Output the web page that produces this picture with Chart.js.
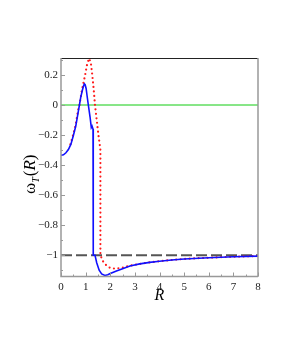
<!DOCTYPE html>
<html><head><meta charset="utf-8">
<script src="https://cdn.jsdelivr.net/npm/chart.js@4/dist/chart.umd.min.js"></script>
<style>html,body{margin:0;padding:0;background:#fff;}#wrap{width:281px;height:363px;position:relative;}</style>
</head><body><div id="wrap"><canvas id="c" width="281" height="363"></canvas></div>
<script>
const yTicks = [-1, -0.8, -0.6, -0.4, -0.2, 0, 0.2];
const xTicks = [0, 1, 2, 3, 4, 5, 6, 7, 8];
const blueR = [0,0.1,0.2,0.3,0.4,0.5,0.6,0.7,0.8,0.87,0.92,0.95,0.98,1.02,1.06,1.11,1.18,1.23,1.26,1.3,1.31,1.38,1.45,1.55,1.65,1.78,1.9,2.0,2.25,2.5,2.8,3.2,3.6,4,4.5,5,6,7,8];
const blueW = [-0.335,-0.332,-0.318,-0.297,-0.262,-0.205,-0.14,-0.045,0.05,0.1,0.13,0.14,0.135,0.11,0.06,0.0,-0.08,-0.15,-0.14,-0.16,-1.0,-1.0,-1.05,-1.1,-1.125,-1.135,-1.13,-1.122,-1.105,-1.09,-1.072,-1.058,-1.048,-1.04,-1.032,-1.025,-1.017,-1.01,-1.006];
const redR = [0.38,0.45,0.5,0.6,0.7,0.75,0.85,0.98,1.07,1.15,1.22,1.27,1.33,1.38,1.45,1.52,1.57,1.6,1.6,1.7,1.85,2.0,2.2,2.5,2.8,3.2,3.6,4,4.5,5,6,7,8];
const redW = [-0.262,-0.225,-0.195,-0.128,-0.03,0.0,0.1,0.2,0.28,0.31,0.27,0.2,0.1,0.0,-0.1,-0.2,-0.26,-0.3,-1.0,-1.04,-1.07,-1.085,-1.09,-1.083,-1.07,-1.058,-1.048,-1.04,-1.032,-1.025,-1.017,-1.01,-1.006];
const zeroLineW = [0, 0];
const asymptoteW = [-1, -1];
const lineR = [0, 8];

const pts = (xs, ys) => xs.map((x, i) => ({x: x, y: ys[i]}));
const minus = v => String(v).replace('-', '\u2212');

const frame = {
  id: 'frame',
  afterDatasetsDraw(chart) {
    const {ctx, chartArea: a} = chart;
    const xs = chart.scales.x, ys = chart.scales.y;
    ctx.save();
    ctx.lineWidth = 1;
    ctx.strokeStyle = '#222';
    ctx.beginPath(); ctx.moveTo(a.left, a.top + 0.5); ctx.lineTo(a.right, a.top + 0.5); ctx.stroke();
    ctx.strokeStyle = '#999';
    ctx.lineWidth = 1.5;
    ctx.beginPath();
    ctx.moveTo(a.right, a.top); ctx.lineTo(a.right, a.bottom);
    ctx.moveTo(a.left, a.top); ctx.lineTo(a.left, a.bottom); ctx.lineTo(a.right, a.bottom);
    ctx.stroke();
    ctx.lineWidth = 1;
    ctx.beginPath();
    for (let v = 0; v <= 8.001; v += 0.5) {
      const px = Math.round(xs.getPixelForValue(v)) + 0.5;
      const len = (Math.abs(v - Math.round(v)) < 1e-6) ? 4 : 2;
      ctx.moveTo(px, a.bottom); ctx.lineTo(px, a.bottom - len);
    }
    for (let v = -1.1; v <= 0.31; v += 0.1) {
      const py = Math.round(ys.getPixelForValue(v)) + 0.5;
      const major = Math.abs(v * 5 - Math.round(v * 5)) < 1e-6;
      ctx.moveTo(a.left, py); ctx.lineTo(a.left + (major ? 4 : 2), py);
    }
    ctx.stroke();
    // axis titles
    ctx.fillStyle = '#000';
    ctx.textBaseline = 'alphabetic';
    ctx.font = 'italic 16px "Liberation Serif"';
    ctx.textAlign = 'center';
    ctx.fillText('R', (a.left + a.right) / 2, 300);
    ctx.translate(35, 194);
    ctx.rotate(-Math.PI / 2);
    ctx.textAlign = 'left';
    ctx.font = '17px "Liberation Serif"';
    ctx.fillText('\u03c9', 0, 0);
    let w = ctx.measureText('\u03c9').width;
    ctx.font = 'italic 10px "Liberation Serif"';
    ctx.fillText('T', w, 4);
    w += ctx.measureText('T').width + 1;
    ctx.font = '17px "Liberation Serif"';
    ctx.fillText('(', w, 0);
    w += ctx.measureText('(').width;
    ctx.font = 'italic 17px "Liberation Serif"';
    ctx.fillText('R', w, 0);
    w += ctx.measureText('R').width;
    ctx.font = '17px "Liberation Serif"';
    ctx.fillText(')', w, 0);
    ctx.restore();
  }
};

new Chart(document.getElementById('c'), {
  type: 'scatter',
  data: {
    datasets: [
      {data: pts(blueR, blueW), showLine: true, borderColor: '#1010ff', borderWidth: 1.6, pointRadius: 0, tension: 0, order: 0},
      {data: pts(redR, redW), showLine: true, borderColor: '#ff1a1a', borderWidth: 2.2, borderDash: [0, 4.5], borderCapStyle: 'round', pointRadius: 0, tension: 0, order: 1},
      {data: pts(lineR, zeroLineW), showLine: true, borderColor: '#11cc11', borderWidth: 1, pointRadius: 0, order: 3},
      {data: pts(lineR, asymptoteW), showLine: true, borderColor: '#555', borderWidth: 2, borderDash: [11, 4], pointRadius: 0, order: 2}
    ]
  },
  options: {
    responsive: false,
    animation: false,
    events: [],
    layout: {padding: {left: 0, top: 58, right: 23, bottom: 0}},
    plugins: {legend: {display: false}, tooltip: {enabled: false}},
    scales: {
      x: {
        type: 'linear', min: 0, max: 8,
        afterBuildTicks: s => { s.ticks = xTicks.map(v => ({value: v})); },
        afterFit: s => { s.height = 363 - 276.5; },
        grid: {display: false, drawTicks: false},
        border: {display: false},
        ticks: {padding: 4, color: '#222', font: {family: 'Liberation Serif, serif', size: 11}, maxRotation: 0, callback: v => minus(v)}
      },
      y: {
        type: 'linear', min: -1.142, max: 0.313,
        afterBuildTicks: s => { s.ticks = yTicks.map(v => ({value: v})); },
        afterFit: s => { s.width = 61; },
        grid: {display: false, drawTicks: false},
        border: {display: false},
        ticks: {padding: 3, color: '#222', font: {family: 'Liberation Serif, serif', size: 11}, callback: v => minus(Math.round(v * 10) / 10)}
      }
    }
  },
  plugins: [frame]
});
</script></body></html>
